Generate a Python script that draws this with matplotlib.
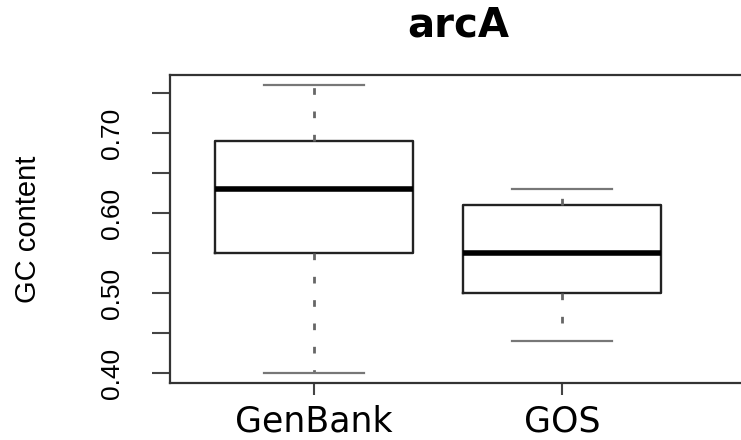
import matplotlib
matplotlib.use("Agg")
import matplotlib.pyplot as plt

# GC content summary per source
groups = ["GenBank", "GOS"]
whisker_low = [0.40, 0.44]
q1 = [0.55, 0.50]
median = [0.63, 0.55]
q3 = [0.69, 0.61]
whisker_high = [0.76, 0.63]

y_ticks = [0.40, 0.45, 0.50, 0.55, 0.60, 0.65, 0.70, 0.75]
y_labels = ["0.40", "", "0.50", "", "0.60", "", "0.70", ""]

stats = []
for i, name in enumerate(groups):
    stats.append({
        "label": name,
        "whislo": whisker_low[i],
        "q1": q1[i],
        "med": median[i],
        "q3": q3[i],
        "whishi": whisker_high[i],
        "fliers": [],
    })

fig = plt.figure(figsize=(7.41, 4.40), dpi=100)
ax = fig.add_axes([170 / 741, 1 - 383 / 440, 576 / 741, 308 / 440])

ax.bxp(stats, positions=[1, 2], widths=0.8, showfliers=False,
       boxprops=dict(color="#222222", linewidth=1.7),
       medianprops=dict(color="black", linewidth=4.0, solid_capstyle="butt"),
       whiskerprops=dict(color="#666666", linewidth=2.0, linestyle=(0, (2.4, 6))),
       capprops=dict(color="#777777", linewidth=1.6),
       capwidths=0.4)

ax.set_xlim(0.419, 2.742)
ax.set_ylim(0.3875, 0.7725)

ax.set_yticks(y_ticks)
ax.set_yticklabels(y_labels, family="Liberation Sans", fontsize=19)
plt.setp(ax.get_yticklabels(), rotation=90, va="center")
ax.tick_params(axis="y", length=13, width=1.5, color="#444444", pad=20)

ax.set_xticks([1, 2])
ax.set_xticklabels(groups, family="DejaVu Sans", fontsize=25)
ax.tick_params(axis="x", length=8.6, width=1.5, color="#444444", pad=7)

for side in ["left", "top", "bottom", "right"]:
    ax.spines[side].set_linewidth(1.6)
    ax.spines[side].set_color("#333333")

ax.set_ylabel("GC content", family="Liberation Sans", fontsize=21)
ax.yaxis.set_label_coords(-0.222, 0.5)

ax.set_title("arcA", family="DejaVu Sans", fontweight="bold", fontsize=29, pad=28)

fig.savefig("out.png", dpi=100)
